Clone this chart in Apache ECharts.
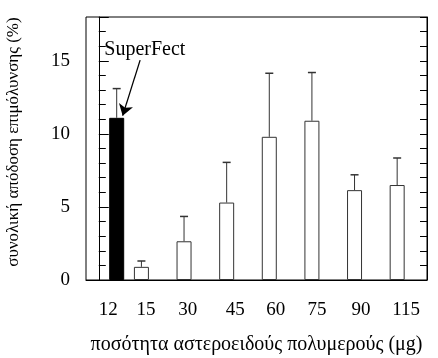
<!DOCTYPE html>
<html>
<head>
<meta charset="utf-8">
<script src="https://cdn.jsdelivr.net/npm/echarts@6/dist/echarts.min.js"></script>
<style>
html, body { margin: 0; padding: 0; background: #fff; }
#box { width: 438px; height: 358px; }
</style>
</head>
<body>
<div id="box"></div>
<script>
// amounts of polymer (µg), the first bar is the SuperFect control
var categories = ['12', '15', '30', '45', '60', '75', '90', '115'];
// slot of each bar along the x axis (the control sits closer to the first sample)
var slots = [0.42, 1, 2, 3, 4, 5, 6, 7];
// where the tick labels sit (they are set a little off the bar centres in the original)
var labelSlots = [0.22, 1.11, 2.09, 3.2, 4.15, 5.12, 6.15, 7.21];
var efficiency = [11.1, 0.9, 2.65, 5.3, 9.8, 10.9, 6.15, 6.5];
var errUpper = [13.1, 1.3, 4.35, 8.05, 14.15, 14.2, 7.2, 8.35];

var dom = document.getElementById('box');
var myChart = echarts.init(dom);
var serif = 'Liberation Serif';

var barData = [];
var errData = [];
for (var i = 0; i < categories.length; i++) {
    barData.push({
        value: [slots[i], efficiency[i]],
        itemStyle: i === 0 ? { color: '#000', borderColor: '#000' } : { color: '#fff', borderColor: '#333' }
    });
    errData.push([slots[i], efficiency[i], errUpper[i]]);
}

var option = {
    animation: false,
    grid: {
        left: 86, right: 11, top: 17, bottom: 78,
        outerBoundsMode: 'none',
        containLabel: false,
        show: true, borderColor: '#000', borderWidth: 1, backgroundColor: 'transparent'
    },
    xAxis: {
        type: 'value',
        min: -0.3,
        max: 7.7,
        name: 'ποσότητα αστεροειδούς πολυμερούς (μg)',
        nameLocation: 'middle',
        nameGap: 55,
        nameTextStyle: { fontFamily: serif, fontSize: 20, color: '#000' },
        axisLine: { show: true, lineStyle: { color: '#000', width: 1 } },
        axisTick: { show: false },
        splitLine: { show: false },
        axisLabel: {
            customValues: labelSlots,
            margin: 21,
            fontFamily: serif,
            fontSize: 19,
            color: '#000',
            formatter: function (v) {
                var k = labelSlots.indexOf(v);
                return k >= 0 ? categories[k] : '';
            }
        }
    },
    yAxis: [
        {
            type: 'value',
            min: 0,
            max: 18,
            interval: 5,
            position: 'left',
            name: 'συνολική απόδοση επιμόλυνσης (%)',
            nameLocation: 'middle',
            nameGap: 64,
            nameTextStyle: { fontFamily: serif, fontSize: 17, color: '#000', padding: [0, 0, 0, 13] },
            axisLine: { show: true, lineStyle: { color: '#000' } },
            axisTick: { show: true, inside: true, length: 10, lineStyle: { color: '#000' } },
            minorTick: { show: true, splitNumber: 5, length: 7, lineStyle: { color: '#000' } },
            splitLine: { show: false },
            axisLabel: { showMaxLabel: false, margin: 16, fontFamily: serif, fontSize: 19, color: '#000' }
        },
        {
            type: 'value',
            min: 0,
            max: 18,
            interval: 1,
            position: 'right',
            axisLine: { show: true, lineStyle: { color: '#000' } },
            axisTick: { show: true, inside: true, length: 7, lineStyle: { color: '#000' } },
            splitLine: { show: false },
            axisLabel: { show: false }
        }
    ],
    series: [
        {
            name: 'efficiency',
            type: 'bar',
            barWidth: 15,
            itemStyle: { borderWidth: 1 },
            data: barData,
            z: 2,
            markLine: {
                silent: true,
                symbol: ['none', 'arrow'],
                symbolSize: 11,
                label: { show: false },
                lineStyle: { color: '#000', width: 1.3, type: 'solid' },
                z: 5,
                data: [[{ coord: [0.97, 15.05] }, { coord: [0.56, 11.25] }]]
            },
            markPoint: {
                silent: true,
                symbol: 'circle',
                symbolSize: 0,
                label: {
                    show: true,
                    position: 'inside',
                    formatter: 'SuperFect',
                    fontFamily: serif,
                    fontSize: 20,
                    color: '#000'
                },
                data: [{ coord: [1.08, 15.75] }]
            }
        },
        {
            name: 'error',
            type: 'custom',
            renderItem: function (params, api) {
                var base = api.coord([api.value(0), api.value(1)]);
                var top = api.coord([api.value(0), api.value(2)]);
                var half = 4;
                return {
                    type: 'group',
                    children: [
                        { type: 'line', shape: { x1: base[0], y1: base[1], x2: top[0], y2: top[1] }, style: { stroke: '#333', lineWidth: 1 } },
                        { type: 'line', shape: { x1: top[0] - half, y1: top[1], x2: top[0] + half, y2: top[1] }, style: { stroke: '#333', lineWidth: 1.5 } }
                    ]
                };
            },
            encode: { x: 0, y: [1, 2] },
            data: errData,
            z: 3
        }
    ]
};

if (option && typeof option === 'object') {
    myChart.setOption(option, true);
}
</script>
</body>
</html>
